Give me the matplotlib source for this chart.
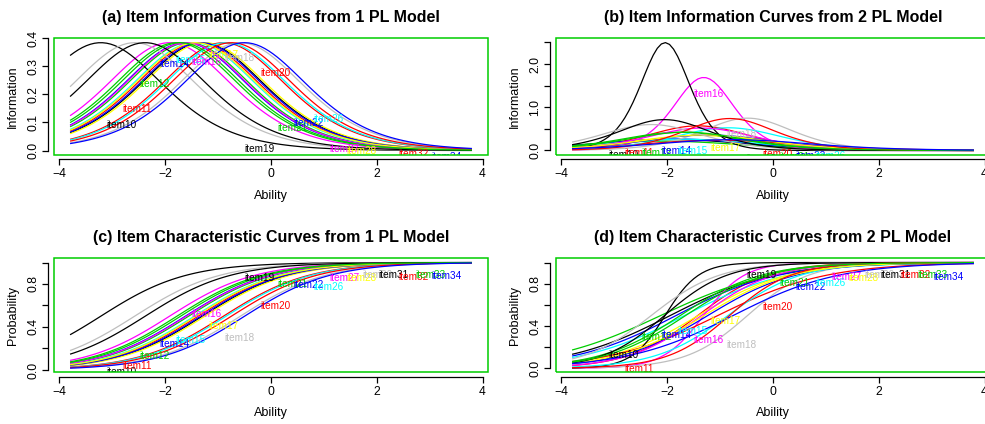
import numpy as np
import matplotlib
matplotlib.use("Agg")
import matplotlib.pyplot as plt
from matplotlib.patches import Rectangle
from matplotlib.transforms import ScaledTranslation

plt.rcParams['font.family'] = ['Liberation Sans', 'DejaVu Sans']

# ---- data: item names and estimated IRT parameters ----
items = ["item10", "item11", "item12", "item14", "item15", "item16", "item17",
         "item18", "item19", "item20", "item21", "item22", "item26", "item27",
         "item28", "item30", "item31", "item32", "item33", "item34"]
# 1 PL model: common discrimination, item difficulties
a_1pl = 1.24
b_1pl = [-1.30, -1.38, -1.56, -1.62, -1.45, -1.92, -1.25, -0.58, -3.22, -0.90,
         -1.78, -1.33, -0.85, -1.60, -1.42, -2.58, -2.38, -0.75, -1.71, -0.50]
# 2 PL model: discriminations and difficulties
a_2pl = [1.01, 1.51, 0.93, 1.03, 1.02, 2.60, 1.18, 1.73, 3.16, 0.97,
         1.30, 1.20, 1.45, 1.44, 1.20, 1.55, 1.69, 1.72, 1.30, 1.00]
b_2pl = [-1.94, -1.42, -2.12, -1.83, -1.67, -1.31, -1.41, -0.48, -2.04, -1.04,
         -1.75, -1.23, -0.85, -1.35, -1.30, -2.30, -2.05, -0.82, -1.65, -0.75]

titles = ["(a) Item Information Curves from 1 PL Model",
          "(b) Item Information Curves from 2 PL Model",
          "(c) Item Characteristic Curves from 1 PL Model",
          "(d) Item Characteristic Curves from 2 PL Model"]

palette = ["black", "#FF0000", "#00CD00", "#0000FF", "#00FFFF", "#FF00FF",
           "#FFFF00", "#BEBEBE"]

z = np.linspace(-3.8, 3.8, 100)
pos = np.round(np.linspace(10, 90, len(items))).astype(int) - 1

def icc(a, b):
    return 1.0 / (1.0 + np.exp(-a * (z - b)))

W, H = 985, 424
fig = plt.figure(figsize=(W / 100, H / 100), dpi=100)

def rect(l, t, r, b):
    return [l / W, 1 - b / H, (r - l) / W, (b - t) / H]

rects = [rect(54, 38.3, 488, 154.8), rect(556, 38.3, 990, 154.8),
         rect(54, 258.3, 488, 372.4), rect(556, 258.3, 990, 372.4)]

A1 = [a_1pl] * len(items)
panels = [("info", A1, b_1pl), ("info", a_2pl, b_2pl),
          ("icc", A1, b_1pl), ("icc", a_2pl, b_2pl)]

yticks = [([0, 0.1, 0.2, 0.3, 0.4], [0, 0.1, 0.2, 0.3, 0.4]),
          ([0, 0.5, 1.0, 1.5, 2.0, 2.5], [0, 1.0, 2.0]),
          ([0, 0.2, 0.4, 0.6, 0.8, 1.0], [0, 0.4, 0.8]),
          ([0, 0.2, 0.4, 0.6, 0.8, 1.0], [0, 0.4, 0.8])]

for k, ((kind, A, B), r) in enumerate(zip(panels, rects)):
    ax = fig.add_axes(r)
    curves = []
    for a, b in zip(A, B):
        p = icc(a, b)
        curves.append(a * a * p * (1 - p) if kind == "info" else p)
    curves = np.array(curves)
    for i, c in enumerate(curves):
        ax.plot(z, c, color=palette[i % 8], lw=0.9, solid_capstyle='butt')
    off = ScaledTranslation(0, -12 / 100, fig.dpi_scale_trans)
    for i, c in enumerate(curves):
        t = ax.text(z[pos[i]], c[pos[i]], items[i], color=palette[i % 8],
                    fontsize=7.2, ha='left', va='center',
                    transform=ax.transData + off, clip_on=True)
        t.set_clip_path(ax.patch)
    xr = (-3.8 - 0.04 * 7.6, 3.8 + 0.04 * 7.6)
    lo, hi = curves.min(), curves.max()
    ax.set_xlim(xr)
    ax.set_ylim(lo - 0.04 * (hi - lo), hi + 0.04 * (hi - lo))
    for s in ['top', 'right']:
        ax.spines[s].set_visible(False)
    ax.spines['bottom'].set_position(('outward', 3))
    ax.spines['left'].set_position(('outward', 4))
    ax.spines['bottom'].set_bounds(-4, 4)
    ax.spines['left'].set_bounds(yticks[k][0][0], yticks[k][0][-1])
    for s in ['bottom', 'left']:
        ax.spines[s].set_linewidth(0.9)
    ax.set_xticks([-4, -2, 0, 2, 4])
    ax.set_xticklabels(["\u22124", "\u22122", "0", "2", "4"])
    ax.set_yticks(yticks[k][0])
    ax.set_yticklabels(["%.1f" % v if any(abs(v - w) < 1e-9 for w in yticks[k][1]) else ""
                        for v in yticks[k][0]], rotation=90, va='center')
    ax.tick_params(direction='out', length=4.5, width=0.9, labelsize=8.7, pad=2)
    ax.add_patch(Rectangle((0, 0), 1, 1, transform=ax.transAxes, fill=False,
                           ec="#00CD00", lw=1.1, clip_on=False, zorder=5))
    ax.set_title(titles[k], fontsize=11.5, fontweight='bold', pad=12)
    ax.set_xlabel("Ability", fontsize=9, labelpad=7)
    ax.set_ylabel("Information" if kind == "info" else "Probability",
                  fontsize=9, labelpad=6)

fig.savefig("out.png", dpi=100)
